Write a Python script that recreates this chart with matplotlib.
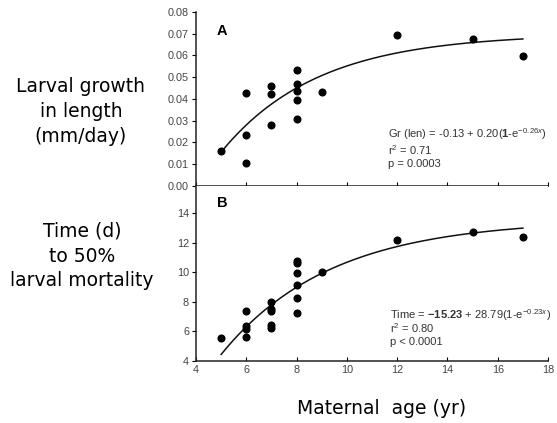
import matplotlib.pyplot as plt
import numpy as np

plt.rcParams['mathtext.fontset'] = 'custom'
plt.rcParams['mathtext.rm'] = 'Liberation Sans'
plt.rcParams['mathtext.it'] = 'Liberation Sans:italic'
plt.rcParams['mathtext.bf'] = 'Liberation Sans:bold'

# maternal age (yr) for each female
age_growth = [5, 6, 6, 6, 7, 7, 7, 8, 8, 8, 8, 8, 9, 12, 15, 17]
growth = [0.0162, 0.0426, 0.0233, 0.0106, 0.0459, 0.0424, 0.0278,
          0.0531, 0.0470, 0.0438, 0.0393, 0.0306, 0.0432, 0.0693, 0.0676, 0.0597]

age_time = [5, 6, 6, 6, 6, 7, 7, 7, 7, 7, 8, 8, 8, 8, 8, 8, 9, 12, 15, 17]
time50 = [5.57, 7.35, 6.35, 6.15, 5.65, 8.0, 7.5, 7.35, 6.4, 6.2,
          10.78, 10.6, 9.97, 9.14, 8.26, 7.25, 10.0, 12.18, 12.72, 12.4]

# fitted curves: y = a + b(1 - exp(-k x))
fit_growth = (-0.13, 0.20, 0.26)
fit_time = (-15.23, 28.79, 0.23)

tick_font = dict(family='Liberation Sans', size=7.8, color='#444444')
label_font = dict(family='DejaVu Sans', size=13.5, color='black')

fig = plt.figure(figsize=(5.57, 4.23), dpi=100)
ax1 = fig.add_axes([0.3519, 0.561, 0.632, 0.4106])
ax2 = fig.add_axes([0.3519, 0.1466, 0.632, 0.4144])

xs = np.linspace(5, 17, 200)

for ax, x, y, fit in [(ax1, age_growth, growth, fit_growth),
                      (ax2, age_time, time50, fit_time)]:
    a, b, k = fit
    ax.plot(xs, a + b * (1 - np.exp(-k * xs)), color='#111111', lw=1.1)
    ax.plot(x, y, 'o', color='black', ms=4.8, mec='black')
    ax.set_xlim(4, 18)
    ax.set_xticks(range(4, 19, 2))
    for s in ['top', 'right']:
        ax.spines[s].set_visible(False)
    for s in ['left', 'bottom']:
        ax.spines[s].set_color('#222222')
        ax.spines[s].set_linewidth(1.1)
    ax.tick_params(axis='y', direction='out', length=3, width=0.8, pad=2)
    ax.tick_params(axis='x', direction='in', length=3, width=0.8, pad=3)

ax1.set_ylim(0, 0.08)
ax1.set_yticks(np.arange(0, 0.081, 0.01))
ax1.set_yticklabels(['%.2f' % v for v in np.arange(0, 0.081, 0.01)], **tick_font)
ax1.set_xticklabels([])

ax2.set_ylim(4, 15.85)
ax2.set_yticks(range(4, 15, 2))
ax2.set_yticklabels([str(v) for v in range(4, 15, 2)], **tick_font)
ax2.set_xticklabels([str(v) for v in range(4, 19, 2)], **tick_font)

ax1.text(0.06, 0.87, 'A', transform=ax1.transAxes, fontsize=10.5,
         fontweight='bold', family='Liberation Sans')
ax2.text(0.06, 0.88, 'B', transform=ax2.transAxes, fontsize=10.5,
         fontweight='bold', family='Liberation Sans')

ann = dict(family='Liberation Sans', size=8, color='#333333', va='center')
ax1.text(11.65, 0.0236, r'Gr (len) = -0.13 + 0.20($\mathbf{1}$-e$^{-0.26x}$)', **ann)
ax1.text(11.65, 0.0162, r'r$^2$ = 0.71', **ann)
ax1.text(11.65, 0.0100, 'p = 0.0003', **ann)

ax2.text(11.7, 7.1, r'Time = $\mathbf{-15.23}$ + 28.79(1-e$^{-0.23x}$)', **ann)
ax2.text(11.7, 6.2, r'r$^2$ = 0.80', **ann)
ax2.text(11.7, 5.27, 'p < 0.0001', **ann)

fig.text(81 / 557, 1 - 111 / 423, 'Larval growth\nin length\n(mm/day)',
         ha='center', va='center', linespacing=1.4, **label_font)
fig.text(82 / 557, 1 - 256 / 423, 'Time (d)\nto 50%\nlarval mortality',
         ha='center', va='center', linespacing=1.4, **label_font)
fig.text(382 / 557, 1 - 408 / 423, 'Maternal  age (yr)',
         ha='center', va='center', **label_font)

fig.savefig('out.png', dpi=100)
